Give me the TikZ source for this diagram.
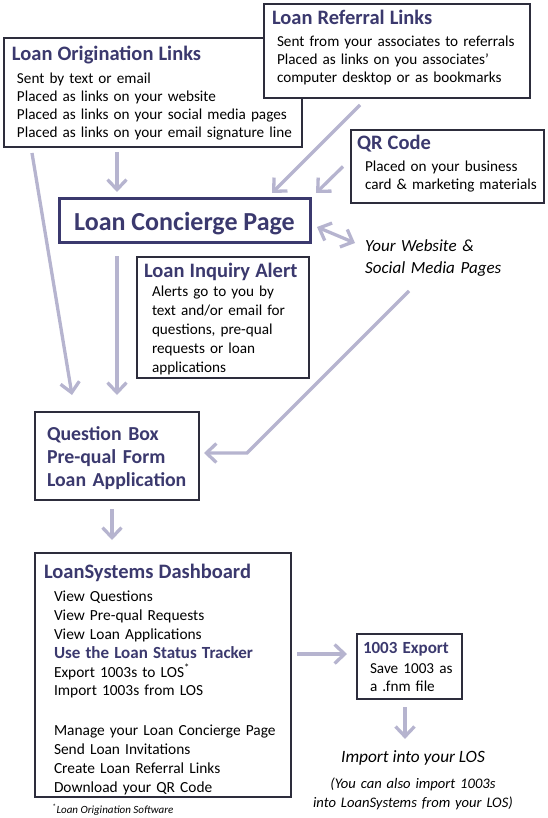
\documentclass[tikz,border=0pt]{standalone}
\usepackage{fontspec}
\setmainfont{Carlito}
\usetikzlibrary{arrows.meta}

\definecolor{navy}{RGB}{59,57,110}
\definecolor{lilac}{RGB}{182,180,207}
\definecolor{frame}{RGB}{45,45,60}
\newcommand{\boxhead}[1]{{\fontsize{20.5}{24}\selectfont\bfseries\color{navy}#1}}
\newcommand{\ind}[1][6pt]{\hspace*{#1}}
\newcommand{\nowrap}{\rightskip=0pt plus 1fil minus 100pt\relax}

\begin{document}
\begin{tikzpicture}[x=1pt, y=-1pt, >={Straight Barb[length=10pt,width=19pt]},
  box/.style={draw=frame, fill=white, line width=1.1pt, anchor=north west, align=left, inner ysep=0pt, outer sep=0pt, font=\fontsize{15.2}{18}\selectfont, execute at begin node=\nowrap},
  flow/.style={draw=lilac, line width=3.3pt, ->},
  twoway/.style={draw=lilac, line width=3.3pt, <->}]
\useasboundingbox (0,0) rectangle (547,818);

\node[box, inner xsep=8pt, text width=282pt, text height=23pt, text depth=86pt] (orig) at (4,38) {\boxhead{Loan Origination Links}\\[5pt]
  \ind[5pt]Sent by text or email\\
  \ind[5pt]Placed as links on your website\\
  \ind[5pt]Placed as links on your social media pages\\
  \ind[5pt]Placed as links on your email signature line};
\node[box, inner xsep=8pt, text width=250pt, text height=21pt, text depth=73pt] (ref) at (264,4) {\boxhead{Loan Referral Links}\\[4pt]
  \ind[5pt]Sent from your associates to referrals\\
  \ind[5pt]Placed as links on you associates'\\
  \ind[5pt]computer desktop or as bookmarks};
\node[box, inner xsep=6pt, text width=181pt, text height=20pt, text depth=53pt] (qr) at (351,130) {\boxhead{QR Code}\\[4pt]
  \ind[8pt]Placed on your business\\
  \ind[8pt]card \& marketing materials};
\node[draw=navy, line width=3pt, anchor=north west, inner sep=0pt, outer sep=0pt, minimum width=251pt, minimum height=43pt, text height=19pt, text depth=0pt, font=\fontsize{26}{30}\selectfont\bfseries, text=navy] (conc) at (59,199) {Loan Concierge Page};
\node[anchor=north west, inner sep=0pt, align=left, text width=150pt, text height=13pt, font=\fontsize{17}{22}\selectfont\itshape] (web) at (365,238) {Your Website \&\\Social Media Pages};
\node[box, inner xsep=7pt, text width=158pt, text height=20pt, text depth=101pt, font=\fontsize{15.2}{19}\selectfont] (alert) at (137,257) {\boxhead{Loan Inquiry Alert}\\
  \ind[8pt]Alerts go to you by\\
  \ind[8pt]text and/or email for\\
  \ind[8pt]questions, pre-qual\\
  \ind[8pt]requests or loan\\
  \ind[8pt]applications};
\node[box, inner xsep=12pt, text width=140pt, text height=28pt, text depth=60pt, font=\fontsize{19.8}{23}\selectfont\bfseries, text=navy] (forms) at (35,412) {Question Box\\Pre-qual Form\\Loan Application};
\node[box, inner xsep=9pt, text width=238pt, text height=25pt, text depth=219pt, font=\fontsize{15.4}{18.8}\selectfont] (dash) at (35,553) {\boxhead{LoanSystems Dashboard}\\[5pt]
  \ind[10pt]View Questions\\
  \ind[10pt]View Pre-qual Requests\\
  \ind[10pt]View Loan Applications\\
  \ind[10pt]{\fontsize{17}{19}\selectfont\bfseries\color{navy}Use the Loan Status Tracker}\\
  \ind[10pt]Export 1003s to LOS\textsuperscript{*}\\
  \ind[10pt]Import 1003s from LOS\\[21pt]
  \ind[10pt]Manage your Loan Concierge Page\\
  \ind[10pt]Send Loan Invitations\\
  \ind[10pt]Create Loan Referral Links\\
  \ind[10pt]Download your QR Code};
\node[box, inner xsep=5pt, text width=95pt, text height=19pt, text depth=46pt] (export) at (357,634) {\ind[1pt]{\fontsize{17}{20}\selectfont\bfseries\color{navy}1003 Export}\\[2pt]
  \ind[8pt]Save 1003 as\\
  \ind[8pt]a .fnm file};
\node[anchor=base, inner sep=0pt, font=\fontsize{17.3}{21}\selectfont\itshape] (import) at (413,762) {Import into your LOS};
\node[anchor=base, inner sep=0pt, align=center, text width=230pt, font=\fontsize{14.6}{19}\selectfont\itshape] (aside) at (413,788) {(You can also import 1003s\\into LoanSystems from your LOS)};
\node[anchor=base west, inner sep=0pt, font=\fontsize{11}{13}\selectfont\itshape] (foot) at (52,813) {\textsuperscript{*}Loan Origination Software};

\coordinate (bend) at (247,453);
\draw[flow] ([shift={(113,5)}]orig.south west) -- ([shift={(58,-7)}]conc.north west);
\draw[flow] ([shift={(96,7)}]ref.south west) -- ([shift={(-38,-6)}]conc.north east);
\draw[flow] ([shift={(-8,0)}]qr.west) -- ([shift={(6,-6)}]conc.north east);
\draw[twoway] ([shift={(7,6.5)}]conc.east) -- ([shift={(-10,5)}]web.north west);
\draw[flow] ([shift={(28,6)}]orig.south west) -- ([shift={(37,-17)}]forms.north west);
\draw[flow] ([shift={(58,14)}]conc.south west) -- ([shift={(82,-17)}]forms.north west);
\draw[flow] ([shift={(44,53)}]web.north west) -- (bend) -- ([shift={(5,-3)}]forms.east);
\draw[flow] ([shift={(77,9)}]forms.south west) -- ([shift={(77,-13)}]dash.north west);
\draw[flow] ([shift={(6,101)}]dash.north east) -- ([shift={(-10,-12.5)}]export.west);
\draw[flow] ([shift={(48,8)}]export.south west) -- ([shift={(-8,-11)}]import.north);
\end{tikzpicture}
\end{document}
